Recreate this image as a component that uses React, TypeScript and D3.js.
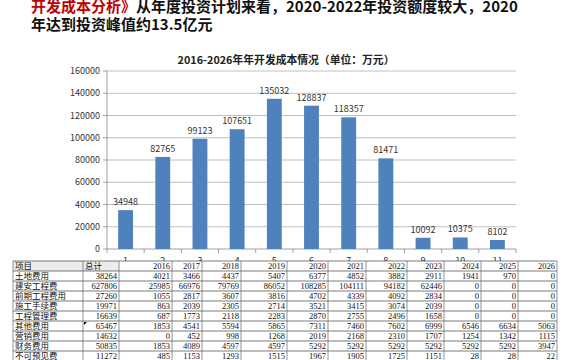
import * as d3 from "d3";

// bar chart data
const categories = ["1", "2", "3", "4", "5", "6", "7", "8", "9", "10", "11"];
const totals = [34948, 82765, 99123, 107651, 135032, 128837, 118357, 81471, 10092, 10375, 8102];
const yTicks = [0, 20000, 40000, 60000, 80000, 100000, 120000, 140000, 160000];

// table data
const tableHeader = ["项目", "总计", "2016", "2017", "2018", "2019", "2020", "2021", "2022", "2023", "2024", "2025", "2026"];
const rowNames = ["土地费用", "建安工程费", "前期工程费用", "施工手续费", "工程管理费", "其他费用", "营销费用", "财务费用", "不可预见费"];
const rowValues = [
  [38264, 4021, 3466, 4437, 5407, 6377, 4852, 3882, 2911, 1941, 970, 0],
  [627806, 25985, 66976, 79769, 86052, 108285, 104111, 94182, 62446, 0, 0, 0],
  [27260, 1055, 2817, 3607, 3816, 4702, 4339, 4092, 2834, 0, 0, 0],
  [19971, 863, 2039, 2305, 2714, 3521, 3415, 3074, 2039, 0, 0, 0],
  [16639, 687, 1773, 2118, 2283, 2870, 2755, 2496, 1658, 0, 0, 0],
  [65467, 1853, 4541, 5594, 5865, 7311, 7460, 7602, 6999, 6546, 6634, 5063],
  [14632, 0, 452, 998, 1268, 2019, 2168, 2310, 1707, 1254, 1342, 1115],
  [50835, 1853, 4089, 4597, 4597, 5292, 5292, 5292, 5292, 5292, 5292, 3947],
  [11272, 485, 1153, 1293, 1515, 1967, 1905, 1725, 1151, 28, 28, 22],
];

// layout
const colEdges = [13, 83, 119, 172, 202, 241, 287, 328, 366, 407, 444, 481, 518, 557];
const tableTop = 261;
const rowH = 10;

const cjk = "'Noto Sans CJK SC', 'Noto Sans', sans-serif";
const cellFont = "'Liberation Serif', 'Noto Sans CJK SC', serif";

export default function App() {
  const x = d3.scaleBand<string>().domain(categories).range([107, 516]).paddingInner(0.6).paddingOuter(0.3);
  const y = d3.scaleLinear().domain([0, 160000]).range([249, 71]);
  const step = x.step();
  const x0 = 107;

  return (
    <svg width={570} height={360} style={{ position: "absolute", left: 0, top: 0, background: "#fff" }}>
      {/* headline */}
      <text x={31} y={12} fontFamily={cjk} fontWeight="bold" fontSize={15} fill="#111">
        <tspan fill="#c00000">开发成本分析》</tspan>从年度投资计划来看，2020-2022年投资额度较大，2020
      </text>
      <text x={31} y={30} fontFamily={cjk} fontWeight="bold" fontSize={15} fill="#111">
        年达到投资峰值约13.5亿元
      </text>

      {/* chart title */}
      <text x={286} y={64} textAnchor="middle" fontFamily={cjk} fontWeight="bold" fontSize={10.8} fill="#222">
        2016-2026年年开发成本情况（单位：万元）
      </text>

      {/* grid + y axis */}
      {yTicks.map((t) => (
        <g key={t}>
          {t > 0 && <line x1={x0} x2={516} y1={y(t)} y2={y(t)} stroke="#b0b0b0" strokeWidth={0.8} />}
          <line x1={x0 - 4} x2={x0} y1={y(t)} y2={y(t)} stroke="#888" strokeWidth={0.8} />
          <text x={100} y={y(t) + 3} textAnchor="end" fontFamily={cjk} fontSize={9} fill="#333">
            {t}
          </text>
        </g>
      ))}
      <line x1={x0} x2={x0} y1={71} y2={249} stroke="#888" strokeWidth={0.8} />
      <line x1={x0} x2={516} y1={249} y2={249} stroke="#888" strokeWidth={0.8} />
      {d3.range(categories.length + 1).map((i) => (
        <line key={i} x1={x0 + i * step} x2={x0 + i * step} y1={249} y2={253} stroke="#888" strokeWidth={0.8} />
      ))}

      {/* bars */}
      {categories.map((c, i) => (
        <g key={c}>
          <rect x={x(c)!} y={y(totals[i])} width={x.bandwidth()} height={249 - y(totals[i])} fill="#4f81bd" />
          <text x={x(c)! + x.bandwidth() / 2} y={y(totals[i]) - 5} textAnchor="middle" fontFamily={cjk} fontSize={9} fill="#333">
            {totals[i]}
          </text>
          <text x={x(c)! + x.bandwidth() / 2} y={264} textAnchor="middle" fontFamily={cjk} fontSize={9} fill="#333">
            {c}
          </text>
        </g>
      ))}

      {/* table */}
      <rect x={0} y={tableTop} width={570} height={100} fill="#fff" />
      <rect x={colEdges[0]} y={tableTop} width={colEdges[2] - colEdges[0]} height={rowH} fill="#ececec" />
      {[tableHeader as (string | number)[], ...rowNames.map((n, i) => [n, ...rowValues[i]])].map((row, r) => (
        <g key={r}>
          {row.map((v, ci) => {
            const left = ci < 2 && (r === 0 || ci === 0);
            return (
              <text
                key={ci}
                x={left ? colEdges[ci] + 2 : colEdges[ci + 1] - 2}
                y={tableTop + r * rowH + 8}
                textAnchor={left ? "start" : "end"}
                fontFamily={ci === 0 || (r === 0 && ci < 2) ? cjk : cellFont}
                fontSize={8.5}
                fill="#111"
              >
                {v}
              </text>
            );
          })}
        </g>
      ))}
      {d3.range(11).map((r) => (
        <line key={"h" + r} x1={colEdges[0]} x2={colEdges[colEdges.length - 1]} y1={tableTop + r * rowH} y2={tableTop + r * rowH} stroke="#444" strokeWidth={0.7} />
      ))}
      {colEdges.map((cx, i) => (
        <line key={"v" + i} x1={cx} x2={cx} y1={tableTop} y2={360} stroke="#666" strokeWidth={0.7} />
      ))}
      <path d={`M${colEdges[1] + 1},${tableTop + 6 * rowH + 1} l3,0 l-3,3 z`} fill="#000" />
    </svg>
  );
}
